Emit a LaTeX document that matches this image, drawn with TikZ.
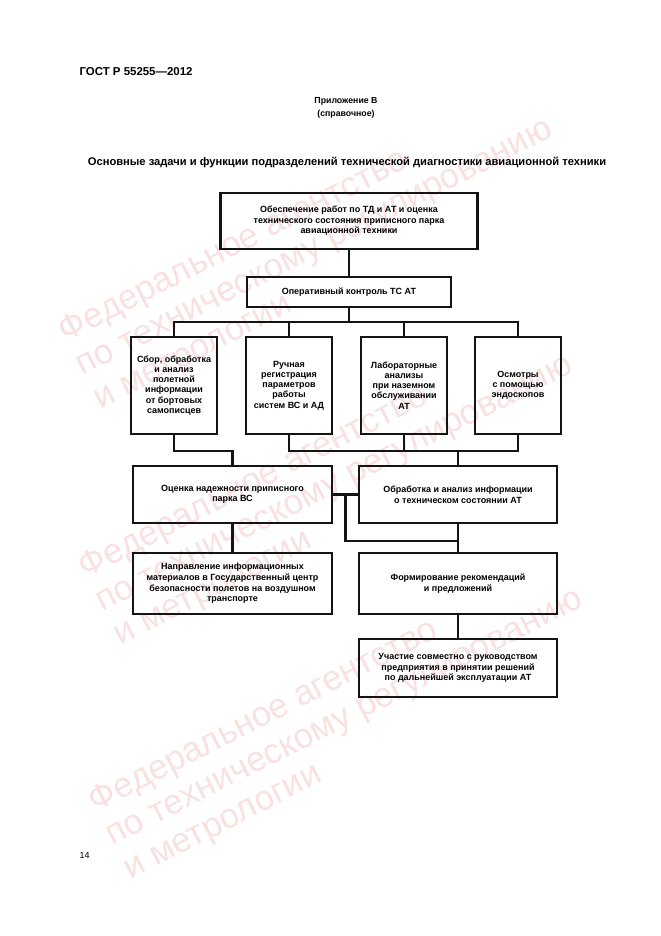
\documentclass[tikz,border=0pt]{standalone}
\usepackage{fontspec}
\setmainfont{Liberation Sans}
\usepackage{tikz}
\usetikzlibrary{positioning}
\definecolor{stamp}{HTML}{F9E1E1}
\definecolor{frame}{HTML}{141414}

\begin{document}
\begin{tikzpicture}[x=1bp,y=-1bp,
  box/.style={draw=frame,line width=2.1bp,align=center,inner sep=2bp,font=\fontsize{9}{10.6}\selectfont\bfseries},
  link/.style={draw=frame,line width=2.1bp},
  wm/.style={text=stamp,rotate=27,anchor=west,align=left,font=\fontsize{35}{38}\selectfont}]
\useasboundingbox (0,0) rectangle (661,936);
% watermark
\node[wm] (wmA) at (76,370) {Федеральное агентство\\по техническому регулированию\\и метрологии};
\node[wm] (wmB) at (96,606) {Федеральное агентство\\по техническому регулированию\\и метрологии};
\node[wm] (wmC) at (106,840) {Федеральное агентство\\по техническому регулированию\\и метрологии};
% header
\node[anchor=west,font=\fontsize{11.5}{13}\selectfont\bfseries] (gost) at (76,72) {ГОСТ Р 55255—2012};
\node[align=center,font=\fontsize{8.8}{13}\selectfont\bfseries] (appx) at (346,107.5) {Приложение В\\(справочное)};
\node[font=\fontsize{11.2}{13}\selectfont\bfseries] (title) at (347,163) {Основные задачи и функции подразделений технической диагностики авиационной техники};
\node[anchor=west,font=\fontsize{9}{11}\selectfont] (page) at (76,855) {14};
% boxes
\node[box,minimum width=258,minimum height=56] (top) at (349,221) {Обеспечение работ по ТД и АТ и оценка\\технического состояния приписного парка\\авиационной техники};
\node[box,minimum width=204,minimum height=31] (ctrl) at (349,292) {Оперативный контроль ТС АТ};
\foreach \n/\x/\t in {sbor/174/{Сбор, обработка\\и анализ\\полетной\\информации\\от бортовых\\самописцев},
  ruch/289/{Ручная\\регистрация\\параметров\\работы\\систем ВС и АД},
  lab/404/{Лабораторные\\анализы\\при наземном\\обслуживании\\АТ},
  endo/518/{Осмотры\\с помощью\\эндоскопов}}
  \node[box,minimum width=86,minimum height=97,font=\fontsize{9}{10.2}\selectfont\bfseries] (\n) at (\x,385.5) {\t};
\node[box,minimum width=199,minimum height=57] (nad) at (232.5,494.5) {Оценка надежности приписного\\парка ВС};
\node[box,minimum width=198,minimum height=57] (obr) at (458,494.5) {Обработка и анализ информации\\о техническом состоянии АТ};
\node[box,minimum width=199,minimum height=61] (napr) at (232.5,583.5) {Направление информационных\\материалов в Государственный центр\\безопасности полетов на воздушном\\транспорте};
\node[box,minimum width=198,minimum height=61] (rek) at (458,583.5) {Формирование рекомендаций\\и предложений};
\node[box,minimum width=198,minimum height=58] (uch) at (458,668) {Участие совместно с руководством\\предприятия в принятии решений\\по дальнейшей эксплуатации АТ};
% connectors
\coordinate (busT) at (349,322);
\coordinate (kA) at (232.5,451);
\coordinate (kF) at (458,451);
\coordinate (mid) at (345.5,494.5);
\coordinate (kG) at (458,541);
\draw[link] (top) -- (ctrl);
\draw[link] (ctrl) -- (busT);
\draw[link] (sbor.north) |- (busT) -| (endo.north);
\draw[link] (ruch.north) -- (ruch.north |- busT);
\draw[link] (lab.north) -- (lab.north |- busT);
\draw[link] (sbor.south) |- (kA) -- (nad.north);
\draw[link] (ruch.south) |- (kF) -| (endo.south);
\draw[link] (lab.south) -- (lab.south |- kF);
\draw[link] (kF) -- (obr.north);
\draw[link] (nad.east) -- (obr.west);
\draw[link] (mid) |- (kG);
\draw[link] (obr) -- (rek);
\draw[link] (nad) -- (napr);
\draw[link] (rek) -- (uch);
\end{tikzpicture}
\end{document}
